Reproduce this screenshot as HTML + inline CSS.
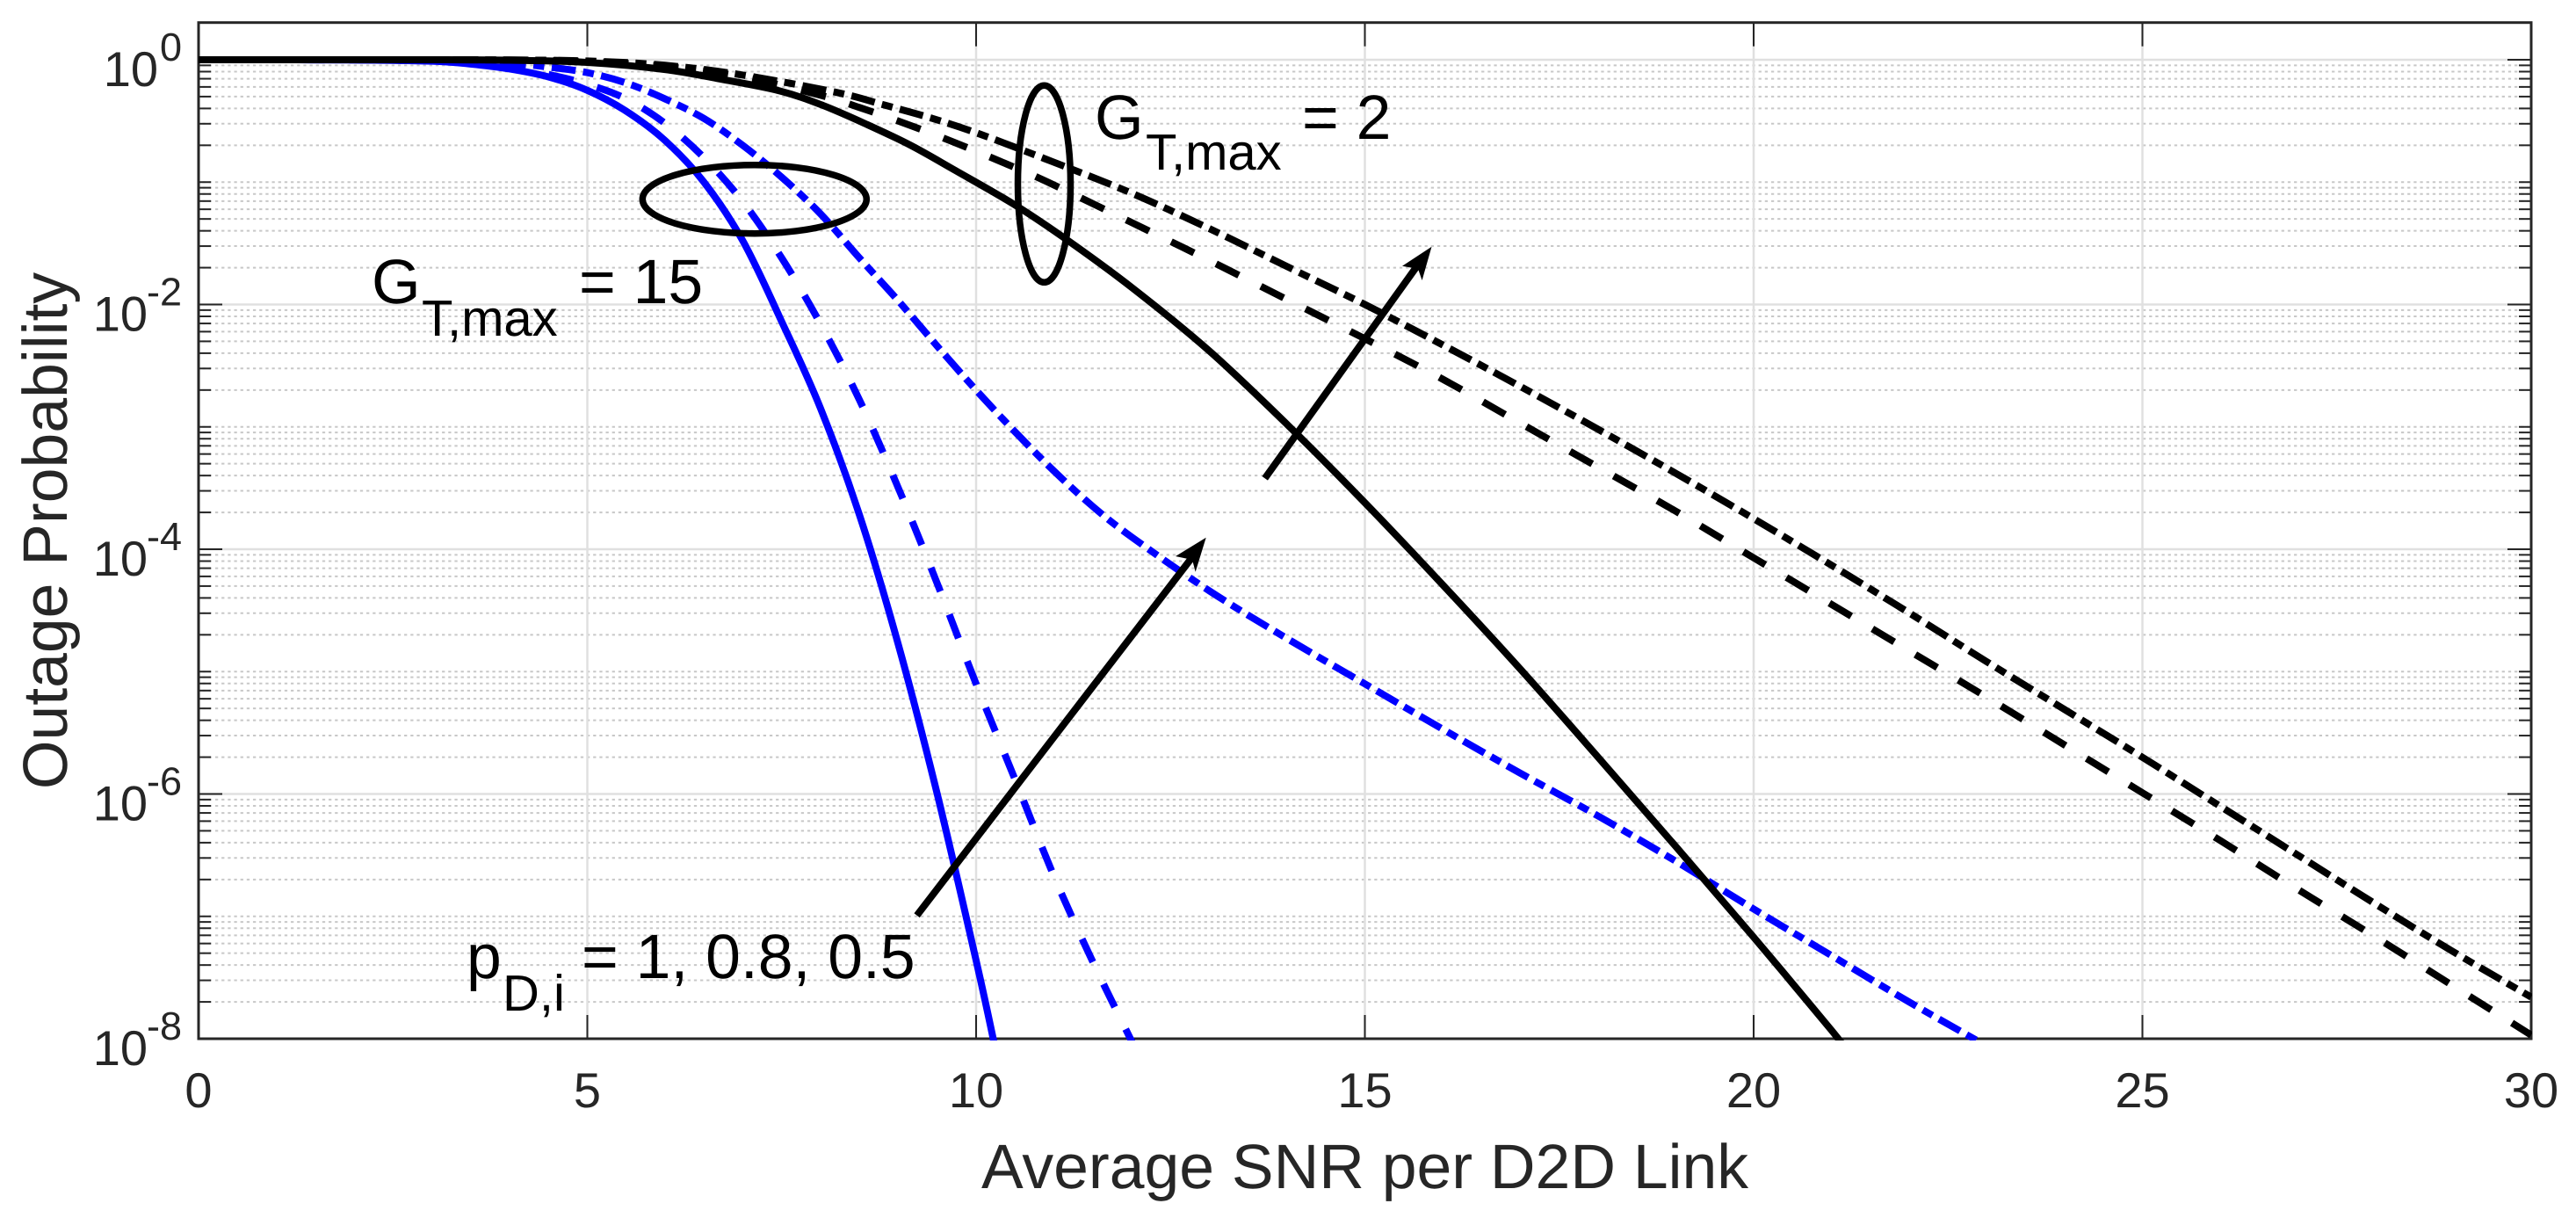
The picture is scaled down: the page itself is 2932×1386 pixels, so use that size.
<!DOCTYPE html>
<html lang="en">
<head>
<meta charset="utf-8">
<title>Outage Probability vs Average SNR per D2D Link</title>
<style>
html,body{margin:0;padding:0;background:#fff;}
svg{display:block;}
text{font-family:"Liberation Sans",Arial,sans-serif;text-rendering:geometricPrecision;}
.tick-text{fill:#262626;font-size:56px;}
.tick-exp{fill:#262626;font-size:45px;}
.axis-title{fill:#262626;font-size:71.5px;}
.note{fill:#000;font-size:71.5px;}
.note-sub{fill:#000;font-size:58px;}
</style>
</head>
<body>
<svg id="chart" xmlns="http://www.w3.org/2000/svg" width="2932" height="1386" viewBox="0 0 2932 1386">
  <rect x="0" y="0" width="2932" height="1386" fill="#ffffff"/>
  <defs><clipPath id="plot-clip"><rect x="226" y="25" width="2656" height="1159"/></clipPath></defs>
  <g id="grid"></g>
  <g id="axes"></g>
  <g id="series" clip-path="url(#plot-clip)"></g>

  <ellipse cx="858.8" cy="226.7" rx="127.5" ry="39" fill="none" stroke="#000" stroke-width="7.5"/>
  <ellipse cx="1188.5" cy="209.3" rx="30" ry="112" fill="none" stroke="#000" stroke-width="7.5"/>

  <g>
    <line x1="1043.6" y1="1041.7" x2="1357" y2="634" stroke="#000" stroke-width="8"/>
    <polygon points="1372.7,611.7 1338,633 1357,637 1360.7,650.7" fill="#000"/>
  </g>
  <g>
    <line x1="1439.7" y1="544.3" x2="1612" y2="304" stroke="#000" stroke-width="8"/>
    <polygon points="1629.5,280.7 1596,302.7 1614,306 1618.6,319" fill="#000"/>
  </g>

  <g>
    <text class="note" x="423" y="345">G</text>
    <text class="note-sub" x="480" y="382">T,max</text>
    <text class="note" x="659" y="345">= 15</text>
  </g>
  <g>
    <text class="note" x="1246" y="158">G</text>
    <text class="note-sub" x="1304" y="193">T,max</text>
    <text class="note" x="1482" y="158">= 2</text>
  </g>
  <g>
    <text class="note" x="531" y="1113">p</text>
    <text class="note-sub" x="572" y="1150">D,i</text>
    <text class="note" x="662" y="1113">= 1, 0.8, 0.5</text>
  </g>

  <text class="axis-title" x="1553.5" y="1352" text-anchor="middle">Average SNR per D2D Link</text>
  <text class="axis-title" x="0" y="0" text-anchor="middle" transform="translate(76 604) rotate(-90)">Outage Probability</text>
</svg>
<script>
// Tick values
const xTicks = [0, 5, 10, 15, 20, 25, 30];
const xTickLabels = ['0', '5', '10', '15', '20', '25', '30'];
const yMajorExponents = [0, -2, -4, -6, -8];
const yTickExponentLabels = ['0', '-2', '-4', '-6', '-8'];
const yMinorDecades = [0, -1, -2, -3, -4, -5, -6, -7, -8];
const yMinorMantissas = [2, 3, 4, 5, 6, 7, 8, 9];

// Series: average SNR per link, and log10 of the outage probability
const blueSolidSnr = [0,1,2,3,3.5,4,4.5,5,5.5,6,6.5,7,7.5,8,8.5,9,9.5,10,10.22,10.3];
const blueSolidLogP = [0,0,-0.002,-0.012,-0.035,-0.075,-0.14,-0.25,-0.42,-0.66,-1.0,-1.48,-2.14,-2.85,-3.72,-4.78,-6.0,-7.36,-8,-8.25];

const blueDashedSnr = [0,1,2,3,3.5,4,4.5,5,5.5,6,6.5,7,7.5,8,8.5,9,9.5,10,10.5,11,11.5,12,12.1];
const blueDashedLogP = [0,0,-0.002,-0.01,-0.025,-0.06,-0.12,-0.2,-0.32,-0.52,-0.8,-1.16,-1.62,-2.16,-2.78,-3.5,-4.28,-5.1,-5.88,-6.67,-7.37,-8.02,-8.15];

const blueDashDotSnr = [0,1,2,3,4,4.5,5,5.5,6,6.5,7,7.5,8,8.5,9,9.5,10,10.5,11,11.5,12,13,14,15,16,17,18,19,20,21,22,23];
const blueDashDotLogP = [0,0,0,-0.006,-0.03,-0.06,-0.105,-0.19,-0.32,-0.48,-0.70,-0.96,-1.26,-1.62,-1.97,-2.34,-2.7,-3.04,-3.36,-3.65,-3.9,-4.34,-4.73,-5.1,-5.47,-5.83,-6.18,-6.55,-6.94,-7.32,-7.7,-8.06];

const blackSolidSnr = [0,2,3,4,5,6,6.71,7.47,8.03,8.6,9.16,9.72,10.47,11.12,12,13,14,15,16,17,18,19,20,21,21.2];
const blackSolidLogP = [0,0,0,-0.004,-0.022,-0.08,-0.158,-0.254,-0.373,-0.53,-0.70,-0.90,-1.175,-1.45,-1.86,-2.38,-2.98,-3.62,-4.29,-4.98,-5.7,-6.43,-7.17,-7.93,-8.1];

const blackDashedSnr = [0,2,3,4,5,6,7,8,8.5,9.1,9.7,10.31,10.89,12,13,14,15,16,17,18,19,20,21,22,23,24,25,26,27,28,29,30];
const blackDashedLogP = [0,0,0,-0.002,-0.015,-0.055,-0.14,-0.29,-0.39,-0.524,-0.67,-0.83,-0.99,-1.33,-1.64,-1.96,-2.28,-2.61,-2.97,-3.33,-3.69,-4.07,-4.45,-4.83,-5.21,-5.6,-5.99,-6.38,-6.78,-7.17,-7.57,-7.97];

const blackDashDotSnr = [0,2,3,4,5,6,7,8.2,8.82,9.44,10.06,10.97,12,13,14,15,16,17,18,19,20,21,22,23,24,25,26,27,28,29,30];
const blackDashDotLogP = [0,0,0,-0.002,-0.01,-0.045,-0.125,-0.266,-0.37,-0.48,-0.61,-0.83,-1.09,-1.38,-1.69,-2.0,-2.33,-2.67,-3.02,-3.38,-3.75,-4.13,-4.52,-4.92,-5.31,-5.7,-6.1,-6.5,-6.9,-7.29,-7.66];

// Axis functions
const plotLeft = 226, plotRight = 2881, plotTop = 25.7, plotBottom = 1182;
const yZero = 68, decadePx = 139.25;
function xScale(snr) { return plotLeft + snr * (plotRight - plotLeft) / 30; }
function yScale(logP) { return yZero - logP * decadePx; }

const svgNS = 'http://www.w3.org/2000/svg';
function el(parent, tag, attrs) {
  const node = document.createElementNS(svgNS, tag);
  for (const k in attrs) node.setAttribute(k, attrs[k]);
  parent.appendChild(node);
  return node;
}

const grid = document.getElementById('grid');
const axes = document.getElementById('axes');
const seriesGroup = document.getElementById('series');
const dotColor = '#c8c8c8';
const dotDash = '3.3 3.87';

// Minor horizontal dotted grid and minor ticks
yMinorDecades.forEach(function (d) {
  if (d > -8 && d < 0 && d % 2 !== 0) {
    const decadeLine = el(grid, 'line', {x1: plotLeft, x2: plotRight, y1: yScale(d), y2: yScale(d), stroke: dotColor, 'stroke-width': 2, 'stroke-dasharray': dotDash, 'stroke-dashoffset': -4.6});
    
    
    [[plotLeft, plotLeft + 14], [plotRight - 14, plotRight]].forEach(function (p) {
      const t = el(axes, 'line', {x1: p[0], x2: p[1], y1: yScale(d), y2: yScale(d), stroke: '#262626', 'stroke-width': 2});
      
      
    });
  }
  if (d <= -8) return;
  yMinorMantissas.forEach(function (m) {
    const v = d - 1 + Math.log10(m);
    const line = el(grid, 'line', {x1: plotLeft, x2: plotRight, y1: yScale(v), y2: yScale(v), stroke: dotColor, 'stroke-width': 2, 'stroke-dasharray': dotDash, 'stroke-dashoffset': -4.6});
    
    
    [[plotLeft, plotLeft + 14], [plotRight - 14, plotRight]].forEach(function (p) {
      const t = el(axes, 'line', {x1: p[0], x2: p[1], y1: yScale(v), y2: yScale(v), stroke: '#262626', 'stroke-width': 2});
      
      
    });
  });
});

// Major horizontal grid, ticks, labels
yMajorExponents.forEach(function (e, i) {
  const y = yScale(e);
  const g = el(grid, 'line', {x1: plotLeft, x2: plotRight, y1: y, y2: y, stroke: '#e0e0e0', 'stroke-width': 2.5});
  
  
  [[plotLeft, plotLeft + 27], [plotRight - 27, plotRight]].forEach(function (p) {
    const t = el(axes, 'line', {x1: p[0], x2: p[1], y1: y, y2: y, stroke: '#262626', 'stroke-width': 2});
    
    
  });
  const label = yTickExponentLabels[i];
  const base = el(axes, 'text', {x: label.length > 1 ? 168 : 180, y: y + 30, 'text-anchor': 'end', class: 'tick-text'});
  base.textContent = '10';
  
  
  const exp = el(axes, 'text', {x: 207, y: y + 1, 'text-anchor': 'end', class: 'tick-exp'});
  exp.textContent = label;
  
  
});

// Vertical grid, x ticks, labels
xTicks.forEach(function (v, i) {
  const x = xScale(v);
  if (v > 0 && v < 30) {
    const g = el(grid, 'line', {x1: x, x2: x, y1: plotTop, y2: plotBottom, stroke: '#e0e0e0', 'stroke-width': 2.5});
    
    
    const t1 = el(axes, 'line', {x1: x, x2: x, y1: plotTop, y2: plotTop + 27, stroke: '#262626', 'stroke-width': 2});
    
    
    const t2 = el(axes, 'line', {x1: x, x2: x, y1: plotBottom - 27, y2: plotBottom, stroke: '#262626', 'stroke-width': 2});
    
    
  }
  const lab = el(axes, 'text', {x: x, y: 1260, 'text-anchor': 'middle', class: 'tick-text'});
  lab.textContent = xTickLabels[i];
  
  
});

// Axes box
const box = el(axes, 'rect', {x: plotLeft, y: plotTop, width: plotRight - plotLeft, height: plotBottom - plotTop, fill: 'none', stroke: '#262626', 'stroke-width': 3});



// Smooth path through the data points
function linePath(xs, ys) {
  const p = xs.map(function (v, i) { return [xScale(v), yScale(ys[i])]; });
  let d = 'M' + p[0][0].toFixed(2) + ' ' + p[0][1].toFixed(2);
  for (let i = 0; i < p.length - 1; i++) {
    const a = p[Math.max(0, i - 1)], b = p[i], c = p[i + 1], e = p[Math.min(p.length - 1, i + 2)];
    const c1x = b[0] + (c[0] - a[0]) / 6, c1y = b[1] + (c[1] - a[1]) / 6;
    const c2x = c[0] - (e[0] - b[0]) / 6, c2y = c[1] - (e[1] - b[1]) / 6;
    d += 'C' + c1x.toFixed(2) + ' ' + c1y.toFixed(2) + ' ' + c2x.toFixed(2) + ' ' + c2y.toFixed(2) + ' ' + c[0].toFixed(2) + ' ' + c[1].toFixed(2);
  }
  return d;
}

function drawSeries(xs, ys, color) {
  return el(seriesGroup, 'path', {d: linePath(xs, ys), fill: 'none', stroke: color, 'stroke-width': 8, 'stroke-linejoin': 'round'});
}

// Line the dash pattern up so the first dash is centred near a given pixel
function setDashes(path, pattern, ax, ay) {
  const parts = pattern.split(' ').map(Number);
  const period = parts.reduce(function (s, n) { return s + n; }, 0);
  const total = path.getTotalLength();
  let best = 0, bestD = Infinity;
  for (let s = 0; s <= total; s += 1) {
    const pt = path.getPointAtLength(s);
    const dist = (pt.x - ax) * (pt.x - ax) + (pt.y - ay) * (pt.y - ay);
    if (dist < bestD) { bestD = dist; best = s; }
  }
  const start = best - parts[0] / 2;
  const offset = ((-start % period) + period) % period;
  path.setAttribute('stroke-dasharray', pattern);
  path.setAttribute('stroke-dashoffset', offset.toFixed(2));
}

const dashedPattern = '29 28';
const dashDotPattern = '27.5 8.5 12.5 8.5';

const s1 = drawSeries(blueSolidSnr, blueSolidLogP, '#0000ff');


const s2 = drawSeries(blueDashedSnr, blueDashedLogP, '#0000ff');
setDashes(s2, dashedPattern, 1043, 607);


const s3 = drawSeries(blueDashDotSnr, blueDashDotLogP, '#0000ff');
setDashes(s3, dashDotPattern, 1335, 645);


const s4 = drawSeries(blackSolidSnr, blackSolidLogP, '#000000');


const s5 = drawSeries(blackDashedSnr, blackDashedLogP, '#000000');
setDashes(s5, dashedPattern, 1997, 635);


const s6 = drawSeries(blackDashDotSnr, blackDashDotLogP, '#000000');
setDashes(s6, dashDotPattern, 2058.3, 629);


</script>
</body>
</html>
